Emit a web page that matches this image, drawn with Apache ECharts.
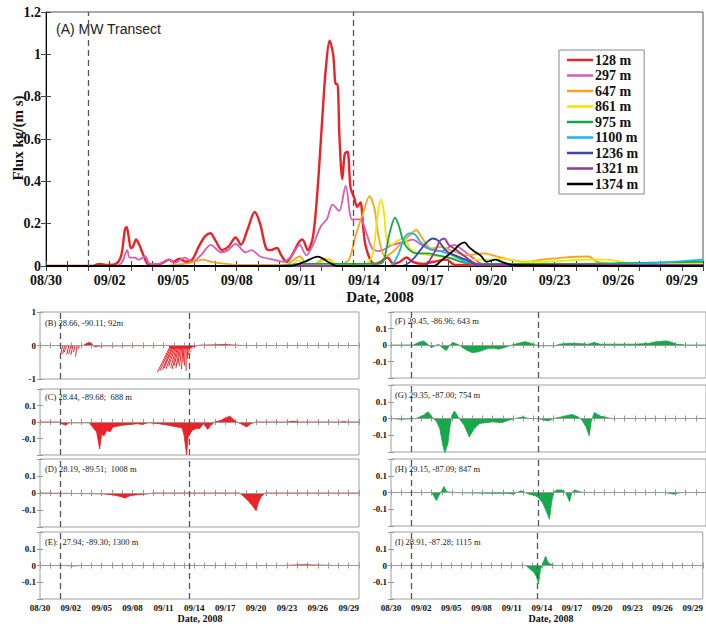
<!DOCTYPE html>
<html><head><meta charset="utf-8">
<script src="https://cdn.jsdelivr.net/npm/echarts@6/dist/echarts.min.js"></script>
<style>html,body{margin:0;padding:0;background:#fff}#c{width:706px;height:627px}</style>
</head><body><div id="c"></div>
<script>
// ---- tick labels (day 0 = 08/30/2008) ----
const dateTicks = ['08/30','09/02','09/05','09/08','09/11','09/14','09/17','09/20','09/23','09/26','09/29'];
const fluxTicks = ['0','0.2','0.4','0.6','0.8','1','1.2'];
const smallTicks = ['-0.1','0','0.1'];
const bTicks = ['-1','0','1'];
const stormDays = [2, 14.5]; // Gustav 09/01, Ike 09/13 12:00

// ---- panel A: [day, flux] ----
const seriesNames = ['128 m','297 m','647 m','861 m','975 m','1100 m','1236 m','1321 m','1374 m'];
const red128 = [[0,0],[2.2,0],[2.5,0.01],[2.9,0.005],[3.3,0.01],[3.55,0.05],[3.72,0.17],[3.8,0.185],[3.9,0.14],[4.0,0.085],[4.1,0.09],[4.25,0.125],[4.4,0.1],[4.6,0.05],[4.85,0.005],[5.2,0.005],[5.5,0.015],[5.8,0.03],[6.0,0.02],[6.3,0.035],[6.6,0.02],[6.9,0.03],[7.2,0.09],[7.5,0.14],[7.75,0.155],[8.0,0.12],[8.3,0.075],[8.6,0.09],[8.95,0.135],[9.2,0.1],[9.5,0.17],[9.85,0.255],[10.1,0.2],[10.4,0.08],[10.6,0.075],[10.9,0.085],[11.1,0.05],[11.35,0.02],[11.6,0.05],[11.95,0.115],[12.1,0.125],[12.35,0.075],[12.6,0.14],[12.82,0.37],[13.05,0.72],[13.2,0.93],[13.38,1.064],[13.55,1.0],[13.67,0.86],[13.75,0.86],[13.85,0.6],[13.98,0.41],[14.1,0.53],[14.23,0.54],[14.37,0.37],[14.55,0.32],[14.68,0.28],[14.84,0.30],[14.95,0.2],[15.07,0.1],[15.3,0.03],[15.5,0.01],[15.8,0.02],[16.1,0.04],[16.4,0.01],[16.7,0.02],[17.0,0.04],[17.3,0.02],[17.8,0.01],[18.3,0.02],[18.9,0.03],[19.3,0.005],[20,0.005],[31,0.005]];
const pink297 = [[0,0],[3.3,0],[3.6,0.02],[3.83,0.075],[3.95,0.04],[4.2,0.04],[4.35,0.03],[4.68,0.045],[4.9,0.01],[5.3,0.01],[5.77,0.03],[6.1,0.015],[6.54,0.04],[6.9,0.02],[7.3,0.05],[7.78,0.1],[8.25,0.065],[8.6,0.075],[8.94,0.105],[9.41,0.065],[9.7,0.075],[10.1,0.045],[10.73,0.03],[11.2,0.02],[11.6,0.05],[11.97,0.1],[12.28,0.05],[12.6,0.1],[12.98,0.19],[13.25,0.22],[13.52,0.29],[13.83,0.26],[14.14,0.38],[14.45,0.22],[14.84,0.22],[15.07,0.17],[15.38,0.085],[15.7,0.07],[16.0,0.08],[16.31,0.1],[16.8,0.11],[17.3,0.125],[17.7,0.1],[18.1,0.08],[18.64,0.07],[19.26,0.1],[19.6,0.08],[20.19,0.035],[20.6,0.01],[21.5,0.01],[31,0.01]];
const orange647 = [[0,0],[5.5,0],[6.5,0.01],[7.0,0.02],[7.4,0.03],[7.8,0.02],[8.5,0.01],[9,0.005],[11.3,0.005],[11.7,0.03],[11.97,0.045],[12.3,0.01],[12.7,0.01],[13.1,0.035],[13.4,0.03],[13.7,0.005],[14.0,0.01],[14.3,0.03],[14.6,0.14],[14.99,0.26],[15.26,0.33],[15.5,0.27],[15.69,0.14],[16.0,0.045],[16.4,0.07],[16.85,0.115],[17.2,0.15],[17.47,0.17],[17.7,0.14],[18.17,0.083],[18.6,0.09],[19.2,0.07],[19.8,0.05],[20.65,0.06],[21.1,0.05],[21.9,0.03],[22.6,0.02],[23.4,0.03],[24.4,0.04],[25.6,0.045],[26.0,0.02],[27,0.01],[31,0.01]];
const yellow861 = [[0,0],[11.5,0],[11.9,0.025],[12.2,0.01],[12.8,0.01],[13.3,0.035],[13.6,0.01],[15.0,0.005],[15.4,0.05],[15.6,0.2],[15.8,0.315],[15.95,0.25],[16.08,0.12],[16.3,0.1],[16.6,0.12],[16.9,0.13],[17.2,0.08],[17.6,0.06],[18.2,0.05],[19,0.04],[20,0.03],[21,0.03],[21.6,0.035],[22.5,0.02],[23.5,0.02],[25.5,0.03],[26.5,0.03],[27.5,0.015],[31,0.01]];
const green975 = [[0,0],[11,0],[12,0.01],[15.5,0.01],[15.9,0.02],[16.2,0.15],[16.47,0.228],[16.65,0.19],[16.85,0.12],[17.1,0.08],[17.5,0.06],[18,0.06],[18.5,0.05],[19,0.04],[19.6,0.02],[20.2,0.01],[22,0.01],[25,0.01],[28,0.015],[31,0.02]];
const cyan1100 = [[0,0],[16.2,0],[16.6,0.05],[16.9,0.13],[17.16,0.154],[17.4,0.15],[17.7,0.11],[18.1,0.08],[18.6,0.07],[19.2,0.05],[19.8,0.02],[20.4,0.005],[25,0.005],[28,0.01],[31,0.03]];
const blue1236 = [[0,0],[16.8,0],[17.3,0.03],[17.7,0.08],[18.0,0.115],[18.25,0.13],[18.5,0.12],[18.9,0.07],[19.3,0.05],[19.8,0.03],[20.4,0.005],[31,0.005]];
const purple1321 = [[0,0],[17.8,0],[18.3,0.06],[18.6,0.12],[18.79,0.13],[19.0,0.1],[19.3,0.08],[19.7,0.05],[20.1,0.02],[20.5,0.005],[31,0.005]];
const black1374 = [[0,0],[11.5,0],[12.2,0.02],[12.82,0.044],[13.3,0.02],[13.7,0],[18.3,0],[18.7,0.03],[19.2,0.07],[19.5,0.1],[19.75,0.112],[19.95,0.09],[20.2,0.07],[20.5,0.05],[20.8,0.02],[21.2,0.03],[21.5,0.02],[22,0.005],[31,0]];

// ---- panel B: background flux [day, value] and sticks [day, dxDays, value] ----
const bArea = [[0,0],[2,0],[4.2,0],[4.5,0.06],[4.8,0.1],[5.0,0.05],[5.3,-0.04],[5.6,-0.02],[6.2,-0.01],[8,-0.01],[10,-0.005],[12.5,0],[12.7,-0.08],[14.5,-0.08],[14.9,-0.03],[15.5,0.01],[17,0.02],[18,0.03],[19,0.01],[20,0],[31,0]];
const bSticks = [[2.2,-0.2,-0.28],[2.4,-0.2,-0.25],[2.6,-0.25,-0.2],[2.8,-0.2,-0.27],[3.0,-0.2,-0.25],[3.2,-0.2,-0.28],[3.4,-0.15,-0.2],[3.6,-0.15,-0.33],[3.8,-0.05,-0.1],
 [12.7,-1.3,-0.8],[12.8,-1.15,-0.75],[12.9,-1.0,-0.72],[13.0,-0.95,-0.68],[13.1,-0.85,-0.7],[13.2,-0.7,-0.62],[13.3,-0.6,-0.66],[13.4,-0.55,-0.7],[13.5,-0.45,-0.6],[13.6,-0.4,-0.68],[13.7,-0.3,-0.55],[13.8,-0.25,-0.62],[13.9,-0.15,-0.7],[14.0,-0.1,-0.5],[14.1,-0.05,-0.6],[14.2,0,-0.75],[14.3,0.05,-0.4],[14.4,0,-0.3],[14.5,0.1,-0.2],[14.6,0.2,-0.1],[14.8,0.3,-0.05]];
// ---- panels C-I: [day, value] ----
const panelC = [[0,0],[1.8,0],[2.1,-0.01],[2.5,-0.02],[2.8,-0.005],[4.8,-0.005],[5.1,-0.03],[5.5,-0.06],[5.8,-0.163],[6.0,-0.07],[6.2,-0.085],[6.5,-0.05],[6.8,-0.06],[7.1,-0.03],[8,-0.02],[9.5,-0.01],[9.87,-0.015],[10.5,-0.005],[11.5,-0.01],[12.5,-0.02],[13.3,-0.03],[13.8,-0.035],[14.0,-0.08],[14.24,-0.198],[14.4,-0.09],[14.6,-0.07],[14.8,-0.05],[15.2,-0.04],[15.5,-0.04],[15.9,-0.01],[16.3,-0.045],[16.6,-0.02],[17.0,0],[17.6,0.01],[18.0,0.025],[18.45,0.035],[18.8,0.015],[19.1,0],[19.5,-0.01],[20.07,-0.03],[20.5,-0.01],[21,0],[24,0],[24.6,0.005],[25.2,0],[29.2,0],[29.5,0.003],[29.8,0],[31,0]];
const panelD = [[0,0],[6,-0.005],[7,-0.01],[7.8,-0.02],[8.25,-0.03],[8.8,-0.015],[9.5,-0.01],[10.5,-0.005],[11,0],[19.4,0],[19.8,-0.02],[20.3,-0.05],[20.7,-0.08],[21.0,-0.105],[21.2,-0.06],[21.5,-0.02],[21.9,0],[31,0]];
const panelE = [[0,0],[2.5,0],[3.2,-0.003],[4,0],[23.5,0],[25.6,0.005],[27.5,0.002],[28.5,0],[31,0]];
const panelF = [[0,0],[2.2,0],[2.7,0.015],[3.17,0.025],[3.5,0.01],[3.97,-0.015],[4.7,0.005],[5.1,-0.02],[5.44,-0.033],[5.8,0],[6.1,0.015],[6.7,0],[7.4,-0.03],[8.02,-0.047],[8.67,-0.04],[9.6,-0.02],[10.2,-0.02],[10.6,-0.025],[11.2,-0.015],[11.9,0],[12.5,0.01],[13.2,0.02],[13.8,0.01],[14.2,0],[14.8,-0.005],[16.1,-0.005],[16.6,0.005],[17.5,0.01],[18.7,0.008],[19.4,0.005],[20,0.015],[20.6,0.005],[24,0.005],[25.4,0.01],[26.1,0.02],[27.1,0.025],[27.7,0.015],[28.1,0.005],[29,0],[31,0]];
const panelG = [[0,0],[1,-0.005],[2.5,0],[3.2,0.02],[3.65,0.04],[4.15,0],[4.5,-0.02],[4.8,-0.06],[5.1,-0.16],[5.3,-0.204],[5.6,-0.15],[5.8,-0.05],[6.0,0.02],[6.24,0.045],[6.7,0],[7.2,-0.04],[7.7,-0.11],[8.2,-0.06],[8.7,-0.03],[9.3,-0.025],[10.0,-0.02],[10.9,-0.025],[11.6,-0.01],[12.2,0],[13.0,0.01],[13.5,0],[14.5,0],[15.45,-0.015],[16.0,0],[16.8,0.01],[17.8,0.024],[18.4,0.01],[18.8,-0.01],[19.2,-0.05],[19.5,-0.103],[19.7,-0.02],[20.0,0.036],[20.6,0.015],[21.6,0],[31,0]];
const panelH = [[0,0],[4.0,0],[4.2,-0.02],[4.47,-0.048],[4.7,-0.02],[5.0,0.01],[5.2,0.036],[5.5,0.005],[6,0],[9.7,-0.005],[10.6,-0.005],[11.5,-0.005],[12.0,-0.01],[12.4,0],[12.8,0.01],[13.2,0],[13.6,-0.01],[14.2,-0.02],[14.5,-0.03],[14.9,-0.06],[15.2,-0.1],[15.6,-0.16],[15.8,-0.06],[16.0,0],[16.3,0.015],[16.8,0.015],[17.2,0],[17.4,-0.03],[17.57,-0.055],[17.8,0],[18.1,0.015],[18.5,0.005],[19,0],[27,0],[27.8,-0.01],[28.5,0],[31,0]];
const panelI = [[0,0],[13.4,0],[13.8,-0.02],[14.2,-0.04],[14.5,-0.07],[14.66,-0.108],[14.85,-0.03],[15.0,0],[15.2,0.03],[15.37,0.055],[15.6,0.02],[15.8,0.01],[16.3,0],[31,0]];
const panelLabels = ['(B) 28.66, -90.11; 92m','(C) 28.44, -89.68;  688 m','(D) 28.19, -89.51;  1008 m','(E):  27.94; -89.30; 1300 m','(F) 29.45, -86.96; 643 m','(G) 29.35, -87.00; 754 m','(H) 29.15, -87.09; 847 m','(I) 28.91, -87.28; 1115 m'];

// ---- styling / layout ----
const SERIF = 'Liberation Serif', SANS = 'Liberation Sans';
const topColors = ['#ec2227','#d95db5','#f9a51c','#f4e500','#12a74a','#1cb5ea','#3948a5','#96369a','#000000'];
const RED = '#ec2227', GREEN = '#16a84b';
const grids = [
  {left:46, top:12, width:666, height:254},
  {left:40, top:312, width:319, height:67},
  {left:40, top:389, width:319, height:66},
  {left:40, top:459, width:319, height:68},
  {left:40, top:532, width:319, height:67},
  {left:391, top:312, width:319, height:66},
  {left:391, top:385, width:319, height:67},
  {left:391, top:459, width:319, height:67},
  {left:391, top:532, width:319, height:67}
];
const labelPos = [[45,323],[45,397],[45,469],[45,542],[395,321],[395,395],[395,469],[395,542]];

const dateFmt = v => { const r = Math.round(v); return (Math.abs(v - r) < 1e-6 && r % 3 === 0 && r/3 < dateTicks.length) ? dateTicks[r/3] : ''; };

const xAxis = [], yAxis = [], series = [];
grids.forEach((g, i) => {
  const big = i === 0;
  const showDates = big || i === 4 || i === 8;
  const tickCol = big ? '#444' : '#999';
  xAxis.push({gridIndex:i, type:'value', min:0, max:31, interval:1, position:'bottom',
    axisLine:{show:big, lineStyle:{color:'#000', width:1}},
    axisTick:{show:true, inside:true, length: big?5:3, lineStyle:{color:tickCol}},
    splitLine:{show:false},
    axisLabel:{show:showDates, formatter:dateFmt, margin: big?7:4, color:'#111',
      fontFamily:SERIF, fontWeight:'bold', fontSize: big?14:9, showMinLabel:true, showMaxLabel:true}});
  xAxis.push({gridIndex:i, type:'value', min:0, max:31, interval:1, position:'top',
    axisLine:{show:false}, axisTick:{show:true, inside:true, length: big?5:3, lineStyle:{color:tickCol}},
    splitLine:{show:false}, axisLabel:{show:false}});
  let ymin, ymax, yint, yfmt;
  if (big) { ymin=0; ymax=1.2; yint=0.2; yfmt = v => fluxTicks[Math.round(v/0.2)] || ''; }
  else if (i === 1) { ymin=-1; ymax=1; yint=1; yfmt = v => bTicks[Math.round(v)+1] || ''; }
  else { ymin=-0.2; ymax=0.2; yint=0.1; yfmt = v => { const k = Math.round(v*10); return (k>=-1 && k<=1) ? smallTicks[k+1] : ''; }; }
  yAxis.push({gridIndex:i, type:'value', min:ymin, max:ymax, interval:yint, position:'left',
    axisLine:{show:big, lineStyle:{color:'#000'}},
    axisTick:{show:true, inside:true, length: big?5:3, lineStyle:{color:tickCol}},
    splitLine:{show:false},
    axisLabel:{formatter:yfmt, margin: big?5:4, color:'#111', fontFamily:SERIF, fontWeight:'bold', fontSize: big?14:9, showMinLabel:true, showMaxLabel:true}});
  yAxis.push({gridIndex:i, type:'value', min:ymin, max:ymax, interval:yint, position:'right',
    axisLine:{show:false}, axisTick:{show:true, inside:true, length: big?5:3, lineStyle:{color:tickCol}},
    splitLine:{show:false}, axisLabel:{show:false}});
});

const stormLines = stormDays.map(d => ({xAxis:d, lineStyle:{type:[6,4], color:'#555', width:1.3}}));
const mk = (withZero) => ({symbol:'none', silent:true, animation:false, label:{show:false},
  data: (withZero ? [{yAxis:0, lineStyle:{type:'solid', color:'#9a9a9a', width:1}}] : []).concat(stormLines)});

// panel A lines
const topData = [red128, pink297, orange647, yellow861, green975, cyan1100, blue1236, purple1321, black1374];
topData.forEach((d, k) => {
  series.push({name:seriesNames[k], type:'line', xAxisIndex:0, yAxisIndex:0, data:d,
    showSymbol:false, smooth:0.3, color:topColors[k],
    lineStyle:{width: k===0 ? 2.4 : 1.8, color:topColors[k]},
    markLine: k===0 ? mk(false) : undefined, z: 2 + k*0.01});
});

// small panels
const smallData = [bArea, panelC, panelD, panelE, panelF, panelG, panelH, panelI];
smallData.forEach((d, j) => {
  const gi = j + 1;
  const col = j < 4 ? RED : GREEN;
  series.push({type:'line', xAxisIndex:2*gi, yAxisIndex:2*gi, data:d, showSymbol:false, smooth:false,
    lineStyle:{width:0.8, color:col}, areaStyle:{color:col, opacity:1}, markLine: mk(true), z:3});
});
series.push({type:'custom', xAxisIndex:2, yAxisIndex:2, data:bSticks, encode:{x:0, y:2}, z:4,
  renderItem:(params, api) => {
    const p0 = api.coord([api.value(0), 0]);
    const p1 = api.coord([api.value(0) + api.value(1), api.value(2)]);
    return {type:'line', shape:{x1:p0[0], y1:p0[1], x2:p1[0], y2:p1[1]}, style:{stroke:RED, lineWidth:1}};
  }});

const graphic = [
  {type:'text', left:56, top:22, style:{text:'(A) MW Transect', fontFamily:SANS, fontSize:14, fill:'#222'}},
  {type:'text', x:18, y:138, rotation:Math.PI/2, style:{text:'Flux kg/(m s)', fontFamily:SERIF, fontWeight:'bold', fontSize:15, fill:'#111', align:'center', verticalAlign:'middle'}},
  {type:'text', x:380, y:297, style:{text:'Date, 2008', fontFamily:SERIF, fontWeight:'bold', fontSize:15, fill:'#111', align:'center', verticalAlign:'middle'}},
  {type:'text', x:200, y:618, style:{text:'Date, 2008', fontFamily:SERIF, fontWeight:'bold', fontSize:10, fill:'#111', align:'center', verticalAlign:'middle'}},
  {type:'text', x:551, y:618, style:{text:'Date, 2008', fontFamily:SERIF, fontWeight:'bold', fontSize:10, fill:'#111', align:'center', verticalAlign:'middle'}}
];
panelLabels.forEach((t, j) => graphic.push({type:'text', x:labelPos[j][0], y:labelPos[j][1], z:10,
  style:{text:t, fontFamily:SERIF, fontSize:8.5, fill:'#222', align:'left', verticalAlign:'middle'}}));

const chart = echarts.init(document.getElementById('c'), null, {renderer:'svg'});
chart.setOption({
  animation:false,
  backgroundColor:'#fff',
  grid: grids.map((g, i) => Object.assign({show:true, borderColor: i===0 ? '#555' : '#a0a0a0', borderWidth:1, backgroundColor:'transparent'}, g)),
  xAxis, yAxis, series, graphic,
  legend:{data:seriesNames, orient:'vertical', left:559, top:50, icon:'rect', itemWidth:26, itemHeight:2.5, itemGap:1.5,
    padding:[3,6,3,8], borderColor:'#888', borderWidth:1, backgroundColor:'#fff',
    textStyle:{fontFamily:SERIF, fontWeight:'bold', fontSize:14, color:'#111', padding:[0,0,0,-3]}}
});
</script></body></html>
